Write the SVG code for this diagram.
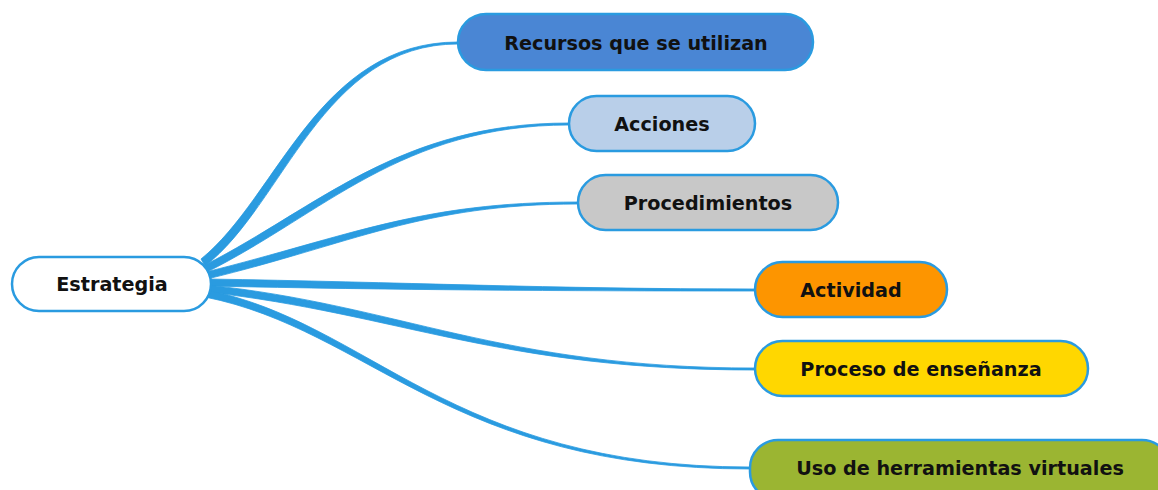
<svg xmlns="http://www.w3.org/2000/svg" width="1158" height="490" viewBox="0 0 1158 490">
<style>
.node rect{stroke:#2a9be0;stroke-width:2.5}
.node text{font-family:"DejaVu Sans",Verdana,sans-serif;font-weight:bold;font-size:19.2px;fill:#111;text-anchor:middle;dominant-baseline:central}
.link{fill:#2a9be0;stroke:#2a9be0;stroke-width:0.8}
</style>
<rect width="1158" height="490" fill="#fff"/>
<g id="connectors">
<path class="link" d="M201,259 C278,197 318,42 458,42 L458,44 C322,44 284,205 205,266 Z"/>
<path class="link" d="M205,265 C320,206 400,123 569,123 L569,125 C402,125 323,214 207,272 Z"/>
<path class="link" d="M206,272 C350,236 420,202 578,202 L578,204 C422,204 352,244 207,279 Z"/>
<path class="link" d="M207,279 C400,282 550,289 755,289 L755,291 C550,291 400,290 207,286 Z"/>
<path class="link" d="M207,285 C400,305 500,368 755,368 L755,370 C500,370 400,314 207,292 Z"/>
<path class="link" d="M206,290 C370,322 450,467 750,467 L750,469 C450,469 370,330 205,297 Z"/>
</g>
<g id="estrategia" class="node"><rect x="12" y="257" width="199" height="54" rx="27" fill="#fff"/><text x="112" y="284">Estrategia</text></g>
<g id="recursos" class="node"><rect x="458" y="14" width="355" height="56" rx="28" fill="#4a86d4"/><text x="636" y="43">Recursos que se utilizan</text></g>
<g id="acciones" class="node"><rect x="569" y="96" width="186" height="55" rx="27.5" fill="#b9cfe9"/><text x="662" y="124">Acciones</text></g>
<g id="procedimientos" class="node"><rect x="578" y="175" width="260" height="55" rx="27.5" fill="#c8c8c8"/><text x="708" y="203">Procedimientos</text></g>
<g id="actividad" class="node"><rect x="755" y="262" width="192" height="55" rx="27.5" fill="#fd9500"/><text x="851" y="290">Actividad</text></g>
<g id="proceso" class="node"><rect x="755" y="341" width="333" height="55" rx="27.5" fill="#ffd700"/><text x="921" y="369">Proceso de enseñanza</text></g>
<g id="uso" class="node"><rect x="750" y="440" width="420" height="60" rx="28" fill="#9bb532"/><text x="960" y="468">Uso de herramientas virtuales</text></g>
</svg>
